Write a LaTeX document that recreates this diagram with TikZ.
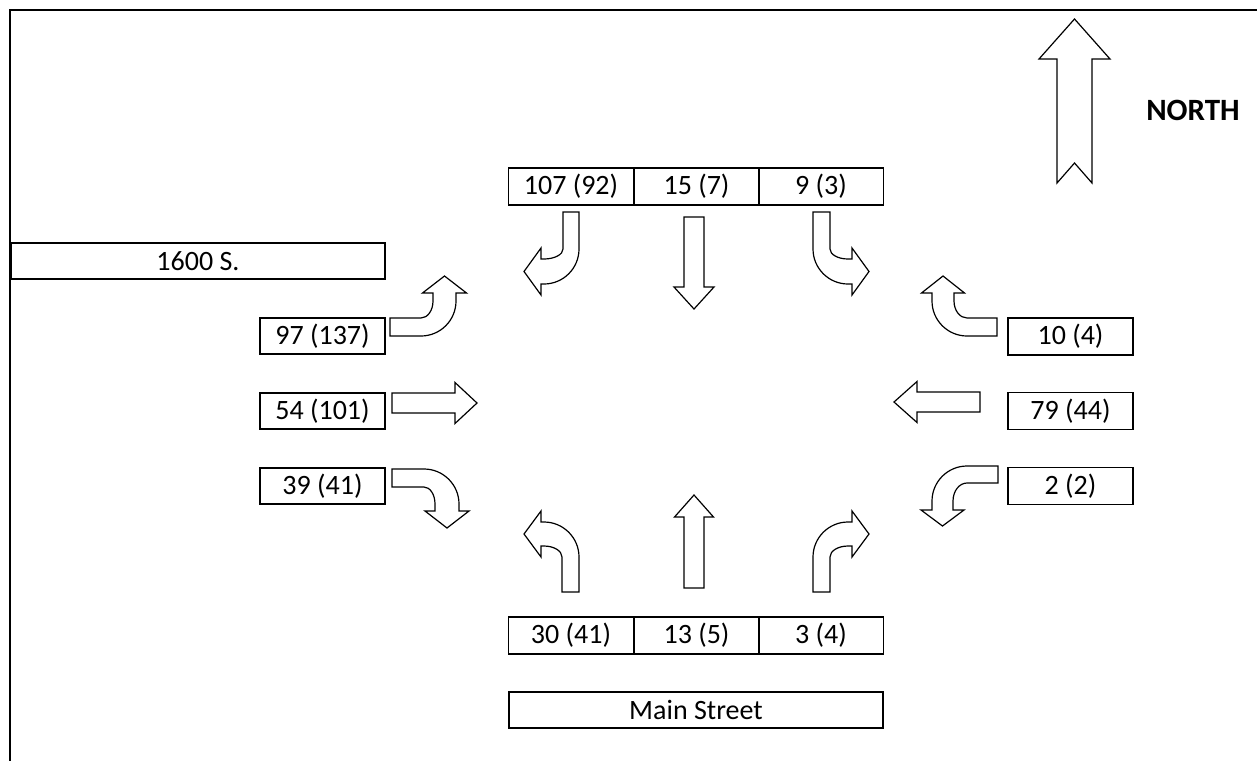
\documentclass[tikz,border=0pt]{standalone}
\usepackage{fontspec}
\setmainfont{Carlito}
\newcommand{\bentarr}[7]{% #1 placement, #2 s, #3 L, #4 h, #5 B, #6 w, #7 hl
\begin{scope}[#1]
\draw[arr] (0,0) -- ({#3-35},0) .. controls ({#3-35+19.3},0) and (#3,{35-19.3}) .. (#3,35)
  -- (#3,#5) -- ({#3-#4/2+#6},#5) -- ({#3-#4/2},{#5+#7}) -- ({#3-#4/2-#6},#5) -- ({#3-#4},#5)
  -- ({#3-#4},35) .. controls ({#3-#4},{35-0.552*(35-#2)}) and ({#3-35+0.552*(35-#4)},#2) .. ({#3-35},#2)
  -- (0,#2) -- cycle;
\end{scope}}
\newcommand{\straightarr}[5]{% #1 placement, #2 half thickness, #3 base, #4 half head, #5 head length
\begin{scope}[#1]
\draw[arr] (0,-#2) -- (#3,-#2) -- (#3,-#4) -- ({#3+#5},0) -- (#3,#4) -- (#3,#2) -- (0,#2) -- cycle;
\end{scope}}
\begin{document}
\begin{tikzpicture}[x=1pt,y=-1pt,
  box/.style={draw, line width=1.5pt, minimum width=125pt, minimum height=37pt, inner sep=0pt,
    font=\fontsize{28}{32}\selectfont},
  arr/.style={draw, line width=1.2pt, line join=miter, fill=white},
  dn/.style={x={(0pt,-1pt)}}, upd/.style={x={(0pt,1pt)}}, ea/.style={x={(1pt,0pt)}}, we/.style={x={(-1pt,0pt)}},
  ndn/.style={y={(0pt,-1pt)}}, nup/.style={y={(0pt,1pt)}}, nea/.style={y={(1pt,0pt)}}, nwe/.style={y={(-1pt,0pt)}}]
\useasboundingbox (0,0) rectangle (1257,761);
% frame
\draw[line width=1.5pt] (1257,10) -- (10,10) -- (10,761);
% street name boxes
\node[box, minimum width=374pt, minimum height=36pt] (s1600) at (198,261) {1600 S.};
\node[box, minimum width=374pt, minimum height=36pt] (main) at (696,710) {Main Street};
% north approach
\node[box] (n1) at (571,186.5) {107 (92)};
\node[box] (n2) at (696.5,186.5) {15 (7)};
\node[box] (n3) at (821,186.5) {9 (3)};
% south approach
\node[box] (s1) at (571,635.5) {30 (41)};
\node[box] (s2) at (696.5,635.5) {13 (5)};
\node[box] (s3) at (821,635.5) {3 (4)};
% west approach
\node[box, minimum height=36pt] (w1) at (322.5,336) {97 (137)};
\node[box, minimum height=36pt] (w2) at (322.5,411) {54 (101)};
\node[box, minimum height=36pt] (w3) at (322.5,486) {39 (41)};
% east approach
\node[box] (e1) at (1070.5,336.5) {10 (4)};
\node[box] (e2) at (1070.5,411) {79 (44)};
\node[box] (e3) at (1070.5,486) {2 (2)};
% turning arrows
\bentarr{shift={(579,212)},dn,nwe}{16}{72}{25}{38}{23.5}{17}
\bentarr{shift={(813,212)},dn,nea}{17}{72}{25}{39}{23.5}{17}
\bentarr{shift={(390,336)},ea,nup}{18}{66}{23}{43}{22}{17}
\bentarr{shift={(392,469)},ea,ndn}{18}{67}{24}{42}{22}{17}
\bentarr{shift={(997,336)},we,nup}{18}{65}{22}{43}{21.5}{17}
\bentarr{shift={(998,466)},we,ndn}{17}{66}{21}{44}{21.5}{16}
\bentarr{shift={(579,592)},upd,nwe}{17}{70}{24}{38}{23}{17}
\bentarr{shift={(813,592)},upd,nea}{17}{70}{24}{39}{23}{17}
% through arrows
\straightarr{shift={(694,217)},dn,nea}{10}{70}{20}{22}
\straightarr{shift={(694,588)},upd,nea}{10}{71}{19.5}{22}
\straightarr{shift={(392,403)},ea,ndn}{10}{63}{20.5}{22}
\straightarr{shift={(980,402)},we,ndn}{10}{63}{20.5}{23}
% north arrow
\draw[arr] (1057,183) -- (1057,59) -- (1039,59) -- (1074.5,19) -- (1110,59) -- (1092,59)
  -- (1092,183) -- (1074.5,163) -- cycle;
\node[font=\bfseries\fontsize{31}{35}\selectfont] (north) at (1193,110) {NORTH};
\end{tikzpicture}
\end{document}
